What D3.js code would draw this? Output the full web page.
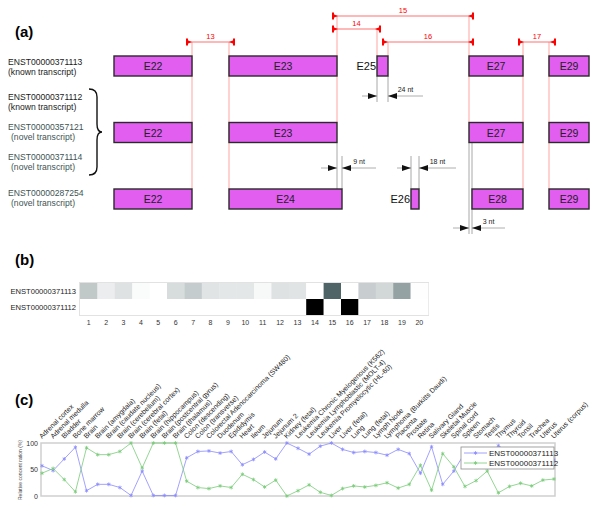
<!DOCTYPE html>
<html><head><meta charset="utf-8">
<script src="https://cdn.jsdelivr.net/npm/d3@7"></script>
<style>body{margin:0;background:#fff}svg{display:block;font-family:"Liberation Sans",Arial,Helvetica,sans-serif}</style>
</head><body><svg id="c" width="600" height="511"></svg>
<script>
// ---------- DATA ----------
const transcriptLabels = [
  {id:"ENST00000371113", note:"(known transcript)", kind:"known"},
  {id:"ENST00000371112", note:"(known transcript)", kind:"known"},
  {id:"ENST00000357121", note:"(novel transcript)", kind:"novel"},
  {id:"ENST00000371114", note:"(novel transcript)", kind:"novel"},
  {id:"ENST00000287254", note:"(novel transcript)", kind:"novel"}
];
// exon structures: row, name, start, end (relative units)
const exonsRow0 = [["E22",0,78],["E23",115,223],["E25",263,274],["E27",355,409],["E29",435,475]];
const exonsRow1 = [["E22",0,78],["E23",115,223],["E27",355,409],["E29",435,475]];
const exonsRow2 = [["E22",0,78],["E24",115,228],["E26",297,305],["E28",358,409],["E29",435,475]];
const outsideLabels = ["E25","E26"];
// probe brackets: label, start, end, level
const probes = [["13",73,120,0],["14",219,266,1],["15",219,359,2],["16",269,359,0],["17",405,441,0]];
// length differences: label, left, right, tail, lineEnd, row gap
const diffs = [["24 nt",263,274,248,309,0],["9 nt",223,228,207,262,1],["18 nt",297,305,283,342,1],["3 nt",355,358,339,391,2]];

const heatCols = d3.range(1,21);
const heatRows = ["ENST00000371113","ENST00000371112"];
const heatRow1 = [0.25,0.08,0.13,0.02,0,0.16,0.23,0.12,0.11,0.11,0.03,0.13,0.12,0,0.7,0,0.22,0.18,0.42,0.005];
const heatRow2 = [0,0,0,0,0,0,0,0,0,0,0,0,0,1,0,1,0,0,0,0];

const tissues = ["Adrenal cortex","Adrenal medulla","Bladder","Bone marrow","Brain","Brain (amygdala)","Brain (caudate nucleus)","Brain (cerebellum)","Brain (cerebral cortex)","Brain (fetal)","Brain (hippocampus)","Brain (postcentral gyrus)","Brain (thalamus)","Colon (descending)","Colon (transverse)","Colorectal Adenocarcinoma (SW480)","Duodenum","Epididymis","Heart","Ileum","Jejunum","Jejunum 2","Kidney (fetal)","Leukemia Chronic Myelogenous (K562)","Leukemia Lymphoblastic (MOLT-4)","Leukemia Promyelocytic (HL-60)","Liver","Liver (fetal)","Lung","Lung (fetal)","Lymph Node","Lymphoma (Burkitts Daudi)","Placenta","Prostate","Retina","Salivary Gland","Skeletal Muscle","Spinal cord","Spleen","Stomach","Testis","Thymus","Thyroid","Tonsil","Trachea","Uterus","Uterus (corpus)"];
const series113 = [57,48,70,92,10,22,22,16,1,47,1,1,1,72,84,85,81,84,59,69,83,70,100,90,79,94,100,88,82,84,82,77,88,80,43,93,22,47,82,71,53,95,82,76,81,70,68];
const series112 = [43,52,31,8,91,78,78,84,100,53,100,100,100,28,16,14,19,16,41,31,17,30,0,10,21,7,1,14,19,17,20,25,15,22,58,11,80,55,18,29,47,6,18,24,19,30,32];
const yTicks = [0,50,100];

// ---------- DRAW ----------
const svg = d3.select("#c");
const FONT = '"Liberation Sans",Arial,Helvetica,sans-serif';

// ===== Panel (a) =====
svg.append("text").attr("x",15).attr("y",37).attr("font-size",15).attr("font-weight","bold").text("(a)");
const xa = d3.scaleLinear().domain([0,475]).range([114,589]);
const rowY = d3.scalePoint().domain([0,1,2]).range([66,199]);
const barH = 20;
const levelY = d3.scaleLinear().domain([0,2]).range([42,16]);
const ga = svg.append("g");

// labels
const labY = [62,97,127,157,193];
transcriptLabels.forEach((t,i)=>{
  const col = t.kind==="known" ? "#1a1a1a" : "#3d5454";
  ga.append("text").attr("x",8).attr("y",labY[i]+3).attr("font-size",8.6).attr("fill",col).text(t.id);
  ga.append("text").attr("x",t.kind==="known"?8:11).attr("y",labY[i]+13).attr("font-size",8.6).attr("fill",col).text(t.note);
});
// brace
ga.append("path").attr("d","M89,89 Q97,89 97,97 L97,124 Q97,132 102,132 Q97,132 97,140 L97,167 Q97,175 89,175")
  .attr("fill","none").attr("stroke","#111").attr("stroke-width",1.4);

// red guide lines
const pink = "#ffa3a3";
const guide = (u,y1,y2,c)=>ga.append("line").attr("x1",xa(u)).attr("x2",xa(u)).attr("y1",y1).attr("y2",y2).attr("stroke",c).attr("stroke-width",1);
guide(78,levelY(0),rowY(2)-barH/2,pink);
guide(115,levelY(0),rowY(2)-barH/2,pink);
guide(223,levelY(2),rowY(1)-barH/2,pink);
guide(263,levelY(1),rowY(0)-barH/2,pink);
guide(274,levelY(0),rowY(0)-barH/2,pink);
guide(355,levelY(2),rowY(1)-barH/2,pink);
guide(409,levelY(0),rowY(2)-barH/2,pink);
guide(435,levelY(0),rowY(2)-barH/2,pink);
// gray guide lines
const gry = "#a8a8a8";
guide(263,rowY(0)+barH/2,102,gry);
guide(274,rowY(0)+barH/2,102,gry);
guide(223,rowY(1)+barH/2,rowY(2)-barH/2,gry);
guide(228,156,rowY(2)-barH/2,gry);
guide(297,156,rowY(2)-barH/2,gry);
guide(305,156,rowY(2)-barH/2,gry);
guide(355,rowY(1)+barH/2,234,gry);
guide(358,rowY(1)+barH/2,234,gry);

// probe brackets
probes.forEach(([lab,s,e,lv])=>{
  const y = levelY(lv), x1 = xa(s), x2 = xa(e);
  ga.append("line").attr("x1",x1).attr("x2",x2).attr("y1",y).attr("y2",y).attr("stroke","#ff7070").attr("stroke-width",1);
  [[x1,1],[x2,-1]].forEach(([x,d])=>{
    ga.append("line").attr("x1",x).attr("x2",x).attr("y1",y-3.5).attr("y2",y+3.5).attr("stroke","#f00").attr("stroke-width",2);
    ga.append("path").attr("d",`M${x},${y-2}L${x+5*d},${y}L${x},${y+2}Z`).attr("fill","#f00");
  });
  ga.append("text").attr("x",(x1+x2)/2).attr("y",y-3).attr("text-anchor","middle").attr("font-size",7.5).attr("fill","#f00").text(lab);
});

// exons
[exonsRow0,exonsRow1,exonsRow2].forEach((row,ri)=>{
  row.forEach(([name,s,e])=>{
    const cy = rowY(ri);
    ga.append("rect").attr("x",xa(s)).attr("y",cy-barH/2).attr("width",xa(e)-xa(s)).attr("height",barH)
      .attr("fill","#e15ef0").attr("stroke","#2a2a2a").attr("stroke-width",1.4);
    if (outsideLabels.includes(name)) {
      ga.append("text").attr("x",xa(s)-1).attr("y",cy+4).attr("text-anchor","end").attr("font-size",11).attr("fill","#111").text(name);
    } else {
      ga.append("text").attr("x",(xa(s)+xa(e))/2).attr("y",cy+4).attr("text-anchor","middle").attr("font-size",10.5).attr("fill","#222").text(name);
    }
  });
});

// nt differences
const diffY = [96,168,228];
diffs.forEach(([lab,l,r,tail,end,g])=>{
  const y = diffY[g], xl = xa(l), xr = xa(r);
  ga.append("line").attr("x1",xa(tail)).attr("x2",xl).attr("y1",y).attr("y2",y).attr("stroke","#999").attr("stroke-width",0.8);
  ga.append("line").attr("x1",xr).attr("x2",xa(end)).attr("y1",y).attr("y2",y).attr("stroke","#999").attr("stroke-width",0.8);
  ga.append("path").attr("d",`M${xl},${y}L${xl-9},${y-3}L${xl-9},${y+3}Z`).attr("fill","#111");
  ga.append("path").attr("d",`M${xr},${y}L${xr+9},${y-3}L${xr+9},${y+3}Z`).attr("fill","#111");
  ga.append("text").attr("x",xr+(xa(end)-xr)*0.5).attr("y",y-4).attr("font-size",7).attr("fill","#222").attr("text-anchor","middle").text(lab);
});

// ===== Panel (b) =====
svg.append("text").attr("x",15).attr("y",265).attr("font-size",15).attr("font-weight","bold").text("(b)");
const hx = d3.scaleBand().domain(heatCols).range([80,428]);
const hy = d3.scaleBand().domain(heatRows).range([283,315]);
const hc = d3.scaleLinear().domain([0,0.7,1]).range(["#ffffff","#4f6466","#000000"]);
const gb = svg.append("g");
gb.append("rect").attr("x",79.5).attr("y",282.5).attr("width",349).attr("height",33).attr("fill","none").attr("stroke","#e2e2e2");
[heatRow1,heatRow2].forEach((vals,ri)=>{
  gb.selectAll(null).data(vals).enter().append("rect")
    .attr("x",(d,i)=>hx(heatCols[i])).attr("y",hy(heatRows[ri])).attr("width",hx.bandwidth()+0.3).attr("height",hy.bandwidth())
    .attr("fill",d=>hc(d));
  gb.append("text").attr("x",76).attr("y",hy(heatRows[ri])+hy.bandwidth()/2+3).attr("text-anchor","end").attr("font-size",7.6).attr("fill","#222").text(heatRows[ri]);
});
gb.selectAll(null).data(heatCols).enter().append("text")
  .attr("x",d=>hx(d)+hx.bandwidth()/2).attr("y",325).attr("text-anchor","middle").attr("font-size",7).attr("fill","#333").text(d=>d);

// ===== Panel (c) =====
svg.append("text").attr("x",15).attr("y",405).attr("font-size",15).attr("font-weight","bold").text("(c)");
const xc = d3.scalePoint().domain(tissues).range([42,554]);
const yc = d3.scaleLinear().domain([0,100]).range([496,443]);
const gc = svg.append("g");
gc.append("rect").attr("x",41).attr("y",443).attr("width",514).attr("height",53).attr("fill","none").attr("stroke","#cfcfcf").attr("stroke-width",1.5);
const yAx = gc.append("g").attr("transform","translate(41,0)").call(d3.axisLeft(yc).tickValues(yTicks).tickSize(0).tickPadding(3));
yAx.select(".domain").remove();
yAx.selectAll("text").attr("font-size",7).attr("font-family",FONT).attr("fill","#333");
gc.append("text").attr("transform","translate(22,470) rotate(-90)").attr("text-anchor","middle").attr("font-size",5).attr("fill","#444").text("Relative concent ration (%)");
// tissue labels
gc.selectAll(null).data(tissues).enter().append("text")
  .attr("transform",d=>`translate(${xc(d)},439) rotate(-45)`).attr("font-size",7).attr("fill","#222").text(d=>d);
// lines
const seriesDefs = [{name:"ENST00000371113",vals:series113,col:"#8a8aff"},{name:"ENST00000371112",vals:series112,col:"#79cc79"}];
const line = d3.line().x((d,i)=>xc(tissues[i])).y(d=>yc(d));
const sym = d3.symbol().type(d3.symbolAsterisk).size(10);
seriesDefs.forEach(s=>{
  gc.append("path").attr("d",line(s.vals)).attr("fill","none").attr("stroke",s.col).attr("stroke-width",0.8);
  gc.selectAll(null).data(s.vals).enter().append("path").attr("d",sym)
    .attr("transform",(d,i)=>`translate(${xc(tissues[i])},${yc(d)})`).attr("fill","none").attr("stroke",s.col).attr("stroke-width",0.8);
});
// legend
const lg = gc.append("g");
lg.append("rect").attr("x",461).attr("y",447).attr("width",93).attr("height",22).attr("fill","#fff").attr("stroke","#8c8c8c").attr("stroke-width",0.8);
seriesDefs.forEach((s,i)=>{
  const y = 453+i*10;
  lg.append("line").attr("x1",464).attr("x2",487).attr("y1",y).attr("y2",y).attr("stroke",s.col).attr("stroke-width",0.8);
  lg.append("path").attr("d",sym).attr("transform",`translate(475.5,${y})`).attr("fill","none").attr("stroke",s.col).attr("stroke-width",0.8);
  lg.append("text").attr("x",489).attr("y",y+3).attr("font-size",8).attr("fill","#222").text(s.name);
});
</script></body></html>
